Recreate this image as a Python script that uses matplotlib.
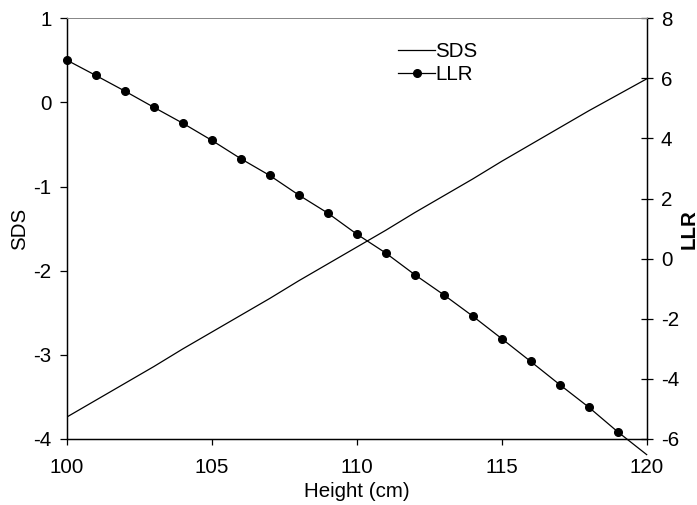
import matplotlib
matplotlib.use("Agg")
import matplotlib.pyplot as plt

plt.rcParams['font.family'] = ['Liberation Sans', 'DejaVu Sans']

height = [100, 101, 102, 103, 104, 105, 106, 107, 108, 109, 110,
          111, 112, 113, 114, 115, 116, 117, 118, 119, 120]
sds = [-3.74, -3.54, -3.34, -3.14, -2.93, -2.73, -2.53, -2.33, -2.12, -1.92, -1.72,
       -1.52, -1.31, -1.11, -0.91, -0.70, -0.50, -0.30, -0.10, 0.09, 0.28]
llr = [6.61, 6.10, 5.58, 5.04, 4.51, 3.94, 3.33, 2.77, 2.12, 1.52, 0.82,
       0.19, -0.53, -1.20, -1.91, -2.66, -3.42, -4.19, -4.94, -5.76, -6.52]

xticks = [100, 105, 110, 115, 120]
sds_ticks = [-4, -3, -2, -1, 0, 1]
llr_ticks = [-6, -4, -2, 0, 2, 4, 6, 8]

fig = plt.figure(figsize=(6.97, 5.05), dpi=100)
ax = fig.add_axes([0.0957, 0.1307, 0.8321, 0.8331])
ax2 = ax.twinx()

fs = 14.8
l1, = ax.plot(height, sds, color='black', lw=0.9, label='SDS')
l2, = ax2.plot(height, llr, color='black', lw=0.9, marker='o', markersize=5.5,
               markevery=list(range(len(height) - 1)), clip_on=False, label='LLR')

ax.set_xlim(100, 120)
ax.set_ylim(-4, 1)
ax2.set_ylim(-6, 8)
ax.set_xticks(xticks)
ax.set_yticks(sds_ticks)
ax2.set_yticks(llr_ticks)
ax.set_xticklabels([str(v) for v in xticks])
ax.set_yticklabels([str(v) for v in sds_ticks])
ax2.set_yticklabels([str(v) for v in llr_ticks])

for a in (ax, ax2):
    for s in a.spines.values():
        s.set_linewidth(0.9)
    a.spines['top'].set_color('#888888')
    a.spines['top'].set_linewidth(0.7)

ax.tick_params(axis='x', direction='out', length=4.5, width=0.9, labelsize=fs, pad=9)
ax.tick_params(axis='y', direction='out', length=4.8, width=0.9, labelsize=fs, pad=6)
ax2.tick_params(axis='y', direction='inout', length=8.5, width=0.9, labelsize=fs, pad=6)

ax.set_xlabel('Height (cm)', fontsize=fs, labelpad=4)
ax.set_ylabel('SDS', fontsize=fs, labelpad=3)
ax2.set_ylabel('LLR', fontsize=fs, fontweight='bold', labelpad=0)

ax.legend([l1, l2], ['SDS', 'LLR'], loc='upper left', bbox_to_anchor=(0.572, 0.943),
          frameon=False, fontsize=fs, handlelength=1.8, handletextpad=0.0,
          labelspacing=0.2, borderpad=0, borderaxespad=0)

fig.savefig('out.png', dpi=100)
